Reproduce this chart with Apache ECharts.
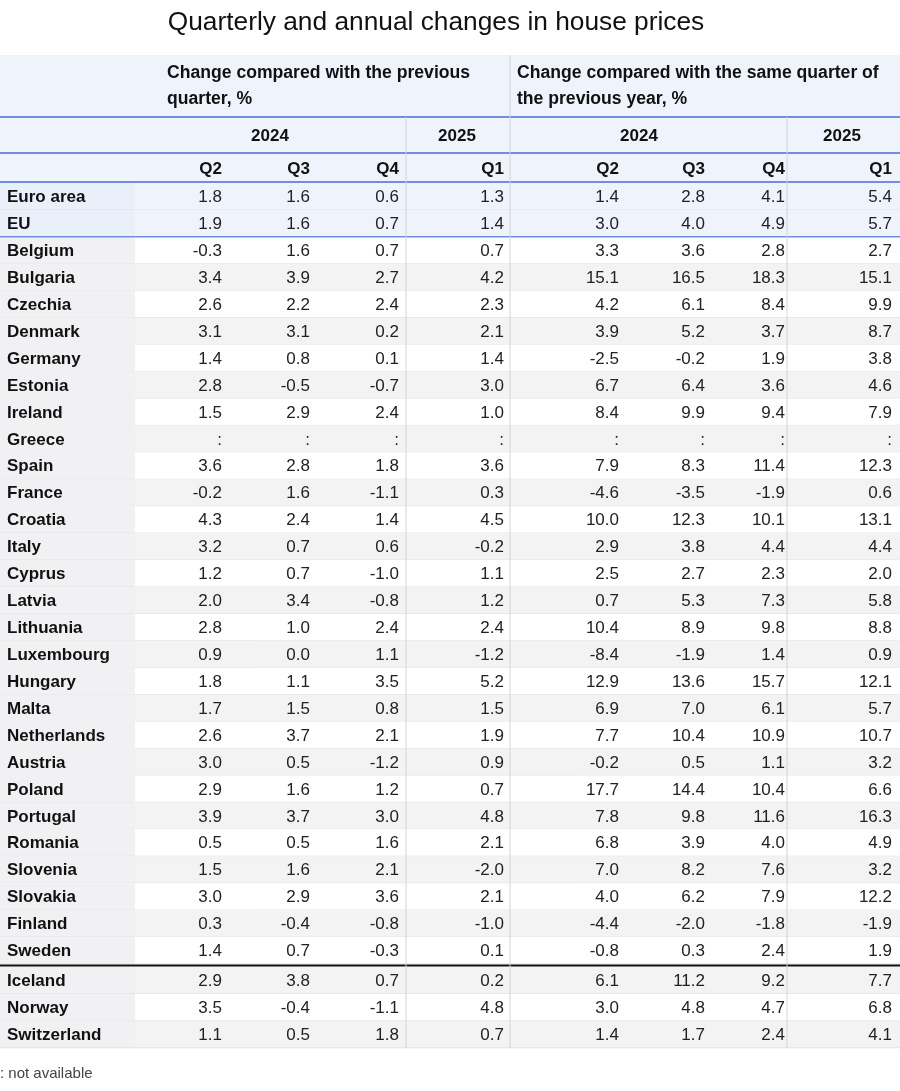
<!DOCTYPE html>
<html><head><meta charset="utf-8">
<script src="https://cdn.jsdelivr.net/npm/echarts@6/dist/echarts.min.js"></script>
<style>html,body{margin:0;padding:0;background:#fff}#c{width:900px;height:1091px}</style>
</head><body><div id="c"></div>
<script>
const countries=["Euro area","EU","Belgium","Bulgaria","Czechia","Denmark","Germany","Estonia","Ireland","Greece","Spain","France","Croatia","Italy","Cyprus","Latvia","Lithuania","Luxembourg","Hungary","Malta","Netherlands","Austria","Poland","Portugal","Romania","Slovenia","Slovakia","Finland","Sweden","Iceland","Norway","Switzerland"];
const qoqQ2_2024=["1.8","1.9","-0.3","3.4","2.6","3.1","1.4","2.8","1.5",":","3.6","-0.2","4.3","3.2","1.2","2.0","2.8","0.9","1.8","1.7","2.6","3.0","2.9","3.9","0.5","1.5","3.0","0.3","1.4","2.9","3.5","1.1"];
const qoqQ3_2024=["1.6","1.6","1.6","3.9","2.2","3.1","0.8","-0.5","2.9",":","2.8","1.6","2.4","0.7","0.7","3.4","1.0","0.0","1.1","1.5","3.7","0.5","1.6","3.7","0.5","1.6","2.9","-0.4","0.7","3.8","-0.4","0.5"];
const qoqQ4_2024=["0.6","0.7","0.7","2.7","2.4","0.2","0.1","-0.7","2.4",":","1.8","-1.1","1.4","0.6","-1.0","-0.8","2.4","1.1","3.5","0.8","2.1","-1.2","1.2","3.0","1.6","2.1","3.6","-0.8","-0.3","0.7","-1.1","1.8"];
const qoqQ1_2025=["1.3","1.4","0.7","4.2","2.3","2.1","1.4","3.0","1.0",":","3.6","0.3","4.5","-0.2","1.1","1.2","2.4","-1.2","5.2","1.5","1.9","0.9","0.7","4.8","2.1","-2.0","2.1","-1.0","0.1","0.2","4.8","0.7"];
const yoyQ2_2024=["1.4","3.0","3.3","15.1","4.2","3.9","-2.5","6.7","8.4",":","7.9","-4.6","10.0","2.9","2.5","0.7","10.4","-8.4","12.9","6.9","7.7","-0.2","17.7","7.8","6.8","7.0","4.0","-4.4","-0.8","6.1","3.0","1.4"];
const yoyQ3_2024=["2.8","4.0","3.6","16.5","6.1","5.2","-0.2","6.4","9.9",":","8.3","-3.5","12.3","3.8","2.7","5.3","8.9","-1.9","13.6","7.0","10.4","0.5","14.4","9.8","3.9","8.2","6.2","-2.0","0.3","11.2","4.8","1.7"];
const yoyQ4_2024=["4.1","4.9","2.8","18.3","8.4","3.7","1.9","3.6","9.4",":","11.4","-1.9","10.1","4.4","2.3","7.3","9.8","1.4","15.7","6.1","10.9","1.1","10.4","11.6","4.0","7.6","7.9","-1.8","2.4","9.2","4.7","2.4"];
const yoyQ1_2025=["5.4","5.7","2.7","15.1","9.9","8.7","3.8","4.6","7.9",":","12.3","0.6","13.1","4.4","2.0","5.8","8.8","0.9","12.1","5.7","10.7","3.2","6.6","16.3","4.9","3.2","12.2","-1.9","1.9","7.7","6.8","4.1"];
const quarterLabels=["Q2","Q3","Q4","Q1","Q2","Q3","Q4","Q1"];
const yearLabels=["2024","2025","2024","2025"];
const groupLabels=["Change compared with the previous\nquarter, %","Change compared with the same quarter of\nthe previous year, %"];
const footnote=": not available";
const title="Quarterly and annual changes in house prices";

const cols=[qoqQ2_2024,qoqQ3_2024,qoqQ4_2024,qoqQ1_2025,yoyQ2_2024,yoyQ3_2024,yoyQ4_2024,yoyQ1_2025];
const colRight=[222,310,399,504,619,705,785,892];
const rowH=26.93, row0=183, W=900;
function rowTop(i){return row0+i*rowH+(i>=29?3:0);}
const FONT='"Liberation Sans", Arial, sans-serif';

const rowData=countries.map((c,i)=>[i,c]);
const cellData=[];
cols.forEach((arr,ci)=>arr.forEach((v,ri)=>cellData.push([ci,ri,v])));

const chart=echarts.init(document.getElementById('c'),null,{renderer:'canvas'});
const blue='#6f8fd9', grey='#d4d4d4';
const g=[];
g.push({type:'rect',shape:{x:0,y:55,width:W,height:127},style:{fill:'#eef3fc'}});
g.push({type:'text',style:{text:title,x:436,y:23,align:'center',verticalAlign:'middle',font:'26.3px '+FONT,fill:'#111'}});
g.push({type:'text',style:{text:groupLabels[0],x:167,y:86,verticalAlign:'middle',font:'bold 17.6px '+FONT,fill:'#111',lineHeight:26}});
g.push({type:'text',style:{text:groupLabels[1],x:517,y:86,verticalAlign:'middle',font:'bold 17.6px '+FONT,fill:'#111',lineHeight:26}});
const yearX=[270,457,639,842];
yearLabels.forEach((t,i)=>g.push({type:'text',style:{text:t,x:yearX[i],y:136,align:'center',verticalAlign:'middle',font:'bold 17px '+FONT,fill:'#111'}}));
quarterLabels.forEach((t,i)=>g.push({type:'text',style:{text:t,x:colRight[i],y:169,align:'right',verticalAlign:'middle',font:'bold 17px '+FONT,fill:'#111'}}));
g.push({type:'text',style:{text:footnote,x:0,y:1074,verticalAlign:'middle',font:'15px '+FONT,fill:'#444'}});
const bottom=rowTop(32);
function hl(y,c,w){g.push({type:'line',shape:{x1:0,y1:y,x2:W,y2:y},style:{stroke:c,lineWidth:w},z:10});}
function vl(x,y1,y2,c){g.push({type:'line',shape:{x1:x,y1:y1,x2:x,y2:y2},style:{stroke:c,lineWidth:1},z:10});}
hl(117,blue,2);hl(153,blue,2);hl(182,blue,2);hl(rowTop(2),blue,1.5);hl(rowTop(29)-1.5,'#111',2);
vl(406,117,bottom,grey);vl(510,55,bottom,grey);vl(787,117,bottom,grey);

chart.setOption({
  animation:false,
  grid:{left:0,right:0,top:0,bottom:0},
  xAxis:{type:'value',min:0,max:W,show:false},
  yAxis:{type:'value',min:0,max:1091,inverse:true,show:false},
  graphic:{elements:g},
  series:[
   {type:'custom',data:rowData,z:1,renderItem:(p,api)=>{
      const i=api.value(0);
      const a=api.coord([0,rowTop(i)]), b=api.coord([W,rowTop(i+1)-(i==28?3:0)]);
      const hdr=i<2, alt=(i%2==1);
      const fill=hdr?'#eef3fc':(alt?'#f3f3f3':'#ffffff');
      const lab=hdr?'#eaf0fa':'#f1f1f3';
      return {type:'group',children:[
        {type:'rect',shape:{x:a[0],y:a[1],width:b[0]-a[0],height:b[1]-a[1]},style:{fill:fill}},
        {type:'rect',shape:{x:a[0],y:a[1],width:135,height:b[1]-a[1]},style:{fill:lab}},
        {type:'line',shape:{x1:a[0],y1:b[1],x2:b[0],y2:b[1]},style:{stroke:'#e2e2e2',lineWidth:1}},
        {type:'text',style:{text:countries[i],x:7,y:(a[1]+b[1])/2+1,verticalAlign:'middle',font:'bold 17px '+FONT,fill:'#111'}}
      ]};
   }},
   {type:'custom',data:cellData,z:2,renderItem:(p,api)=>{
      const ci=api.value(0), ri=api.value(1);
      const pt=api.coord([colRight[ci],rowTop(ri)+rowH/2+1]);
      return {type:'text',style:{text:cellData[p.dataIndex][2],x:pt[0],y:pt[1],align:'right',verticalAlign:'middle',font:'17px '+FONT,fill:'#222'}};
   }}
  ]
});
</script></body></html>
